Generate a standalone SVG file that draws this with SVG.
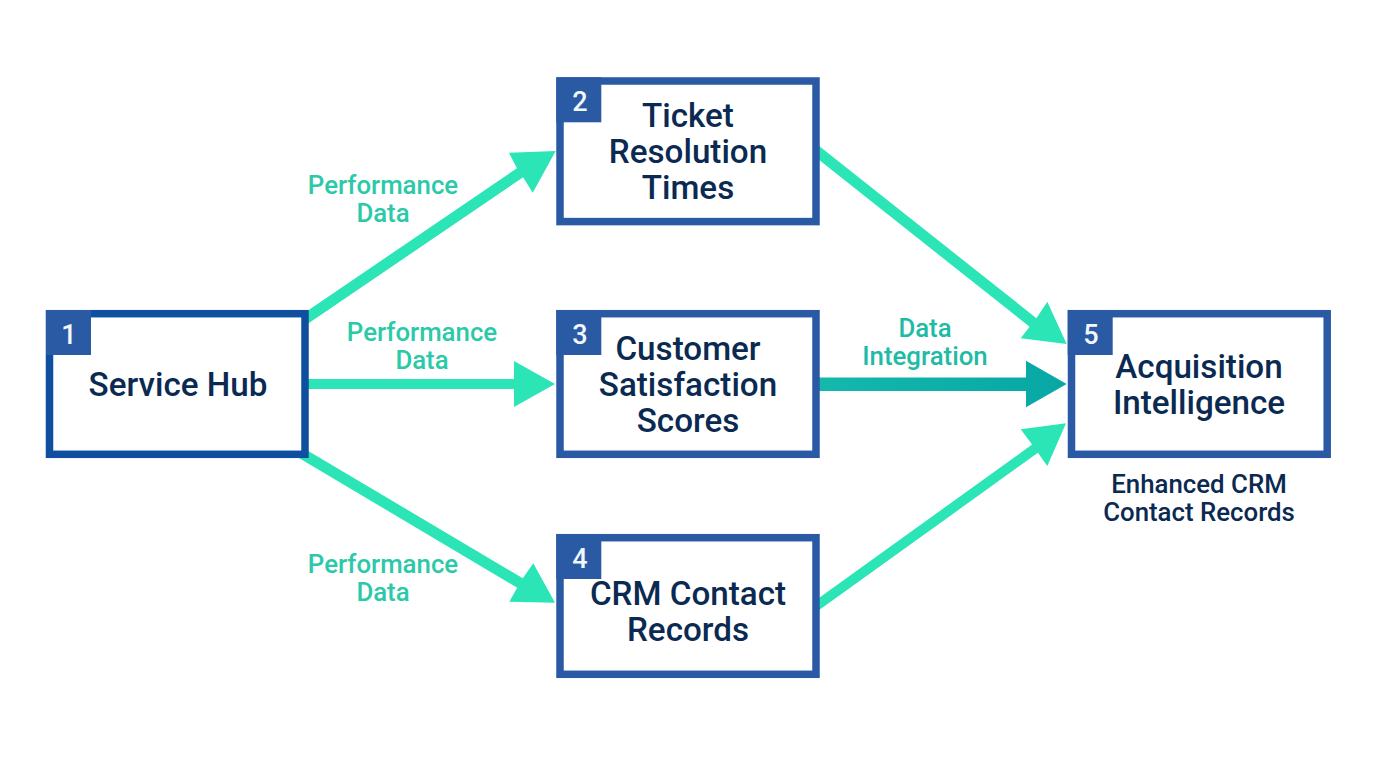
<svg xmlns="http://www.w3.org/2000/svg" width="1376" height="768" viewBox="0 0 1376 768">
<style>
.box{fill:#fff;stroke:#2a5aa3;stroke-width:7.5}
.badge{fill:#2a5aa3}
.num{font:500 27px Roboto,sans-serif;fill:#f2f7fc;text-anchor:middle}
.t{font:500 33.2px Roboto,sans-serif;fill:#0b2a52;text-anchor:middle}
.lab{font:500 25.8px Roboto,sans-serif;fill:#2cc9a9;text-anchor:middle}
.sub{font:500 25.8px Roboto,sans-serif;fill:#0b2a52;text-anchor:middle}
.arr{fill:#2be5b6}
</style>
<defs>
<linearGradient id="g" x1="0" y1="0" x2="1" y2="0"><stop offset="0" stop-color="#14b8ac"/><stop offset="1" stop-color="#07a7a5"/></linearGradient>
</defs>
<rect width="1376" height="768" fill="#fff"/>
<g id="connectors">
<polygon class="arr" points="296.9,318.1 516.9,168.2 509,152.7 555.7,151 532.7,192.7 523.1,177.2 303.1,327.1"/>
<polygon class="arr" points="305,379 514,379 514,361 555,384 514,407 514,389 305,389"/>
<polygon class="arr" points="302.8,447.7 522.8,578.3 533.3,563.3 555,602.7 509.3,601.7 517.2,587.7 297.2,457"/>
<polygon points="818,377.5 1026,377.5 1026,360.7 1066.7,384 1026,407.3 1026,391 818,391" fill="url(#g)"/>
<polygon class="arr" points="813.4,141.4 1036.4,318.2 1047.3,301.7 1066.7,344 1020.7,338.3 1029.6,326.8 806.6,150"/>
<polygon class="arr" points="807.1,606.4 1032.1,444.6 1020.7,429.3 1066,423.3 1047.3,466 1037.9,452.8 812.9,614.6"/>
<text class="lab" x="383" y="193.5">Performance</text><text class="lab" x="383" y="221.5">Data</text>
<text class="lab" x="422" y="341">Performance</text><text class="lab" x="422" y="369">Data</text>
<text class="lab" x="383" y="572.5">Performance</text><text class="lab" x="383" y="600.5">Data</text>
<text class="lab" x="925" y="336.5" style="fill:#1fbba5">Data</text><text class="lab" x="925" y="364.5" style="fill:#1fbba5">Integration</text>
</g>
<g id="node1"><rect class="box" x="49.5" y="313.7" width="255.5" height="140.6" style="stroke:#0f4f9f"/><rect class="badge" x="46" y="310" width="45" height="45"/><text class="num" x="69" y="344">1</text><text class="t" x="178" y="396">Service Hub</text></g>
<g id="node2"><rect class="box" x="560" y="81" width="256" height="140.6"/><rect class="badge" x="556.3" y="77.3" width="45" height="45"/><text class="num" x="580" y="111">2</text><text class="t" x="688" y="127">Ticket</text><text class="t" x="688" y="163">Resolution</text><text class="t" x="688" y="199">Times</text></g>
<g id="node3"><rect class="box" x="560" y="313.7" width="256" height="140.6"/><rect class="badge" x="556.3" y="310" width="45" height="45"/><text class="num" x="580" y="344">3</text><text class="t" x="688" y="360">Customer</text><text class="t" x="688" y="396">Satisfaction</text><text class="t" x="688" y="432">Scores</text></g>
<g id="node4"><rect class="box" x="560" y="537.7" width="256" height="136.6"/><rect class="badge" x="556.3" y="534" width="45" height="45"/><text class="num" x="580" y="568">4</text><text class="t" x="688" y="605">CRM Contact</text><text class="t" x="688" y="641">Records</text></g>
<g id="node5"><rect class="box" x="1071.5" y="313.7" width="255.7" height="140.6"/><rect class="badge" x="1067.7" y="310" width="45" height="45"/><text class="num" x="1091" y="344">5</text><text class="t" x="1199" y="378">Acquisition</text><text class="t" x="1199" y="414">Intelligence</text><text class="sub" x="1199" y="492.5">Enhanced CRM</text><text class="sub" x="1199" y="520.5">Contact Records</text></g>
</svg>
